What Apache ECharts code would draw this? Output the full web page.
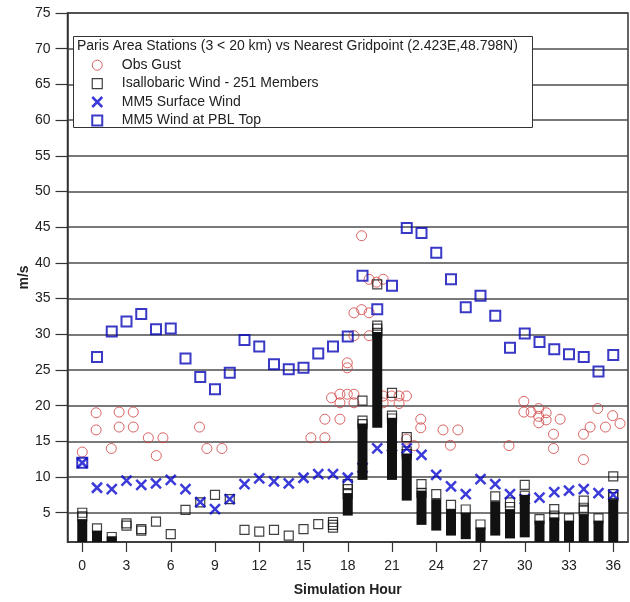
<!DOCTYPE html>
<html><head><meta charset="utf-8">
<script src="https://cdn.jsdelivr.net/npm/echarts@6/dist/echarts.min.js"></script>
<style>html,body{margin:0;padding:0;background:#fff}#c{width:630px;height:602px}</style>
</head><body><div id="c"></div>
<script>
// ---- data ----
const hours = [0,1,2,3,4,5,6,7,8,9,10,11,12,13,14,15,16,17,18,19,20,21,22,23,24,25,26,27,28,29,30,31,32,33,34,35,36];
const pblTopWind = [12.0,26.8,30.4,31.8,32.85,30.7,30.8,26.6,24.0,22.3,24.6,29.2,28.3,25.8,25.1,25.3,27.3,28.3,29.7,38.2,33.5,36.8,44.9,44.2,41.4,37.7,33.8,35.4,32.6,28.1,30.1,28.9,27.9,27.2,26.8,24.8,27.1];
const surfaceWind = [12.0,8.5,8.3,9.5,8.9,9.1,9.6,8.3,6.5,5.5,6.9,9.0,9.8,9.4,9.1,9.9,10.4,10.4,9.9,11.3,14.0,14.3,14.0,13.1,10.3,8.7,7.6,9.7,9.0,7.6,6.9,7.1,7.9,8.1,8.3,7.75,7.5];
// observed gusts: [hour, m/s]
const obsGust = [
 [0,13.5],[0.94,19.0],[0.94,16.6],[1.97,14.0],[2.5,19.1],[2.5,17.0],[3.46,19.1],[3.46,17.0],
 [4.48,15.5],[5.02,13.0],[5.47,15.5],[7.95,17.0],[8.45,14.0],[9.47,14.0],
 [15.5,15.5],[16.45,15.5],[16.45,18.1],[16.9,21.1],[17.47,18.1],[17.47,20.4],[17.47,21.6],
 [17.97,21.6],[17.97,25.3],[17.97,26.0],[18.42,21.6],[18.42,20.4],[18.42,29.8],[18.42,33.0],
 [18.94,33.45],[18.94,43.8],[19.45,33.0],[19.45,29.8],[19.45,37.7],[19.95,37.3],[20.4,37.7],
 [20.4,21.35],[20.4,20.4],[20.97,21.35],[21.48,21.35],[21.48,20.3],[21.98,21.35],[21.98,15.3],
 [22.5,14.4],[22.95,18.1],[22.95,16.9],[24.46,16.6],[24.96,14.45],[25.47,16.6],
 [28.93,14.4],[29.94,20.6],[29.94,19.1],[30.43,19.1],[30.95,19.6],[30.95,18.5],[30.95,17.6],
 [31.45,19.0],[31.45,18.0],[31.95,16.0],[31.95,14.0],[32.4,18.1],[33.98,16.0],[33.98,12.45],
 [34.43,17.0],[34.95,19.6],[35.47,17.0],[35.96,18.6],[36.46,17.5]
];
// isallobaric ensemble: dense member range (low, high) per hour, null = none
const isalloLow  = [0,0,0,null,null,null,null,null,null,null,null,null,null,null,null,null,null,null,5.3,10.3,17.6,10.3,7.4,4.0,3.2,2.5,2.0,0,2.5,2.1,2.25,0,0,0,0,0,0];
const isalloHigh = [3.4,1.8,1.0,null,null,null,null,null,null,null,null,null,null,null,null,null,null,null,7.0,16.8,29.6,17.6,12.6,7.4,6.2,4.8,4.3,2.25,5.9,4.8,6.8,3.2,3.65,3.2,4.1,3.2,6.2];
// isallobaric individual members: [hour, m/s]
const isalloMembers = [
 [0,4.5],[0,5.0],[1,2.8],[2,1.6],[3,3.2],[3,3.5],[4,2.5],[4,2.7],[5,3.75],[6,2.0],[7,5.4],[8,6.45],
 [9,7.5],[10,6.9],[11,2.6],[12,2.35],[13,2.6],[14,1.8],[15,2.7],[16,3.4],[17,2.9],[17,3.3],[17,3.7],
 [18,7.6],[18,8.3],[18,9.0],[19,17.4],[19,17.9],[19,20.7],[20,30.2],[20,30.8],[20,31.2],[20,37.0],
 [21,18.2],[21,18.6],[21,21.8],[22,13.2],[22,13.6],[22,15.6],[23,7.8],[23,9.0],[24,7.6],[25,6.1],
 [26,5.45],[27,3.35],[28,7.3],[29,5.8],[29,6.45],[30,7.4],[30,8.9],[31,4.1],[32,4.6],[32,5.5],
 [33,4.2],[34,5.3],[34,5.7],[34,6.7],[35,4.2],[36,7.2],[36,7.6],[36,10.1]
];
const xTickValues = [0,3,6,9,12,15,18,21,24,27,30,33,36];
const yTickValues = [5,10,15,20,25,30,35,40,45,50,55,60,65,70,75];
const seriesNames = ['Obs Gust','Isallobaric Wind - 251 Members','MM5 Surface Wind','MM5 Wind at PBL Top'];
const titleText = 'Paris Area Stations (3 < 20 km) vs Nearest Gridpoint (2.423E,48.798N)';

// ---- chart ----
const FONT = 'Liberation Sans, Arial, sans-serif';
const RED = '#d04040', BLUE = '#0a0ad0', DBLUE = '#0808b8', BLACK = '#111';
const chart = echarts.init(document.getElementById('c'), null, {renderer:'canvas'});
const rangeData = hours.map((h,i)=> isalloLow[i]==null ? null : [h, isalloLow[i], isalloHigh[i]]).filter(d=>d);
const CIRCLE = 'path://M10,5A5,5,0,1,1,0,5A5,5,0,1,1,10,5Z';
const SQUARE = 'path://M0,0H10V10H0Z';
const CROSS = 'path://M0,0L10,10M10,0L0,10';

chart.setOption({
  animation:false,
  textStyle:{fontFamily:FONT},
  title:{text:titleText,left:77,top:39.5,padding:0,z:20,
    textStyle:{fontSize:14,fontWeight:'normal',color:'#222',fontFamily:FONT}},
  graphic:[{type:'rect',z:5,shape:{x:73.5,y:36.5,width:459,height:91},
    style:{fill:'#fff',stroke:'#333',lineWidth:1}}],
  legend:{orient:'vertical',left:91,top:56,padding:0,itemGap:0,itemWidth:39,itemHeight:10,z:20,
    selectedMode:false,
    textStyle:{fontSize:14,color:'#222',lineHeight:18.4,fontFamily:FONT},
    data:[
      {name:seriesNames[0],icon:CIRCLE,itemStyle:{color:'transparent',borderColor:RED,borderWidth:1}},
      {name:seriesNames[1],icon:SQUARE,itemStyle:{color:'transparent',borderColor:BLACK,borderWidth:1.2}},
      {name:seriesNames[2],icon:CROSS,itemStyle:{color:'transparent',borderColor:BLUE,borderWidth:2.5}},
      {name:seriesNames[3],icon:SQUARE,itemStyle:{color:'transparent',borderColor:DBLUE,borderWidth:2}}
    ]},
  grid:{left:67.5,right:2,top:13,bottom:59,show:true,borderColor:'#333',borderWidth:1.5,backgroundColor:'transparent'},
  xAxis:{type:'value',min:-1,max:37,
    name:'Simulation Hour',nameLocation:'middle',nameGap:41,
    nameTextStyle:{fontSize:14,fontWeight:'bold',color:'#222',fontFamily:FONT},
    axisLine:{show:true,onZero:false,lineStyle:{color:'#333',width:1.5}},
    axisTick:{show:true,length:10,customValues:xTickValues,lineStyle:{color:'#333',width:1.2}},
    axisLabel:{customValues:xTickValues,margin:17,fontSize:14,color:'#222',fontFamily:FONT},
    splitLine:{show:false}},
  yAxis:{type:'value',min:0.9,max:75,
    name:'m/s',nameLocation:'middle',nameGap:36,nameMoveOverlap:false,
    nameTextStyle:{fontSize:14,fontWeight:'bold',color:'#222',fontFamily:FONT},
    axisLine:{show:true,onZero:false,lineStyle:{color:'#333',width:1.5}},
    axisTick:{show:true,length:12,customValues:yTickValues,lineStyle:{color:'#333',width:1.2}},
    axisLabel:{customValues:yTickValues,margin:17,fontSize:14,color:'#222',fontFamily:FONT},
    splitLine:{show:true,lineStyle:{color:'#4d4d4d',width:1.5}}},
  series:[
    {name:seriesNames[0],type:'scatter',z:2,data:obsGust,symbol:'circle',symbolSize:10,
      itemStyle:{color:'transparent',borderColor:RED,borderWidth:1}},
    {name:seriesNames[1],type:'scatter',z:2,data:isalloMembers,symbol:'rect',symbolSize:9,
      itemStyle:{color:'transparent',borderColor:BLACK,borderWidth:1.2}},
    {name:seriesNames[2],type:'scatter',z:2,data:hours.map((h,i)=>[h,surfaceWind[i]]),symbol:CROSS,symbolSize:10,
      itemStyle:{color:'transparent',borderColor:BLUE,borderWidth:2.5}},
    {name:seriesNames[1],type:'custom',z:3,data:rangeData,clip:true,
      encode:{x:0,y:[1,2]},
      renderItem:function(params,api){
        const h=api.value(0), lo=api.value(1), hi=api.value(2);
        const pLo=api.coord([h,lo]), pHi=api.coord([h,hi]);
        const cs=params.coordSys;
        const half=5;
        let y0=pHi[1]-half, y1=Math.min(pLo[1]+half, cs.y+cs.height);
        return {type:'rect',shape:{x:pLo[0]-half,y:y0,width:2*half,height:y1-y0},style:{fill:BLACK}};
      }},
    {name:seriesNames[3],type:'scatter',z:4,data:hours.map((h,i)=>[h,pblTopWind[i]]),symbol:'rect',symbolSize:10,
      itemStyle:{color:'transparent',borderColor:DBLUE,borderWidth:2}}
  ]
});
</script></body></html>
